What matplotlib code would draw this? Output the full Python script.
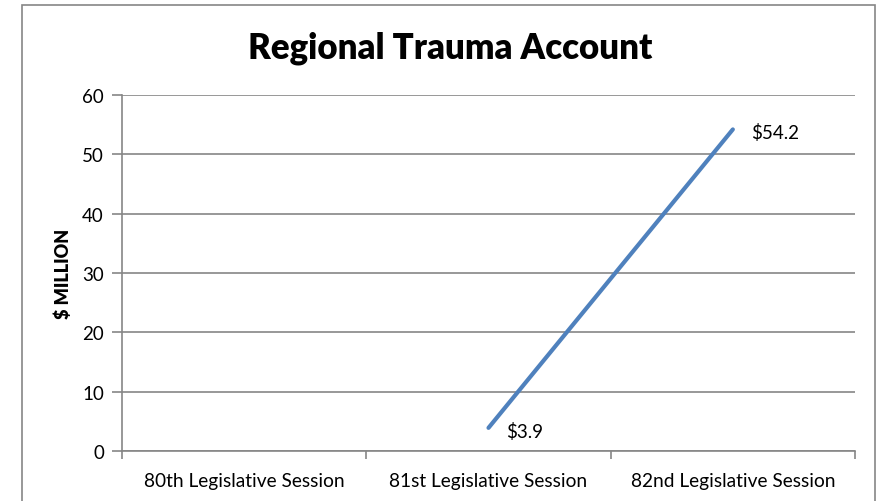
import numpy as np
import matplotlib
matplotlib.use("Agg")
import matplotlib.pyplot as plt
from matplotlib.patches import Rectangle

# data
sessions = ["80th Legislative Session", "81st Legislative Session", "82nd Legislative Session"]
amounts = [np.nan, 3.9, 54.2]
labels = ["", "$3.9", "$54.2"]

plt.rcParams['font.family'] = ['Lato', 'DejaVu Sans']

fig = plt.figure(figsize=(8.79, 5.02), dpi=100)
ax = fig.add_axes([122/879, 1 - 452/502, (855 - 122)/879, (452 - 96)/502])

# outer chart border
fig.patches.append(Rectangle((22/879, -0.02), (875 - 22)/879, 1 - 6/502 + 0.02,
                             transform=fig.transFigure, fill=False,
                             edgecolor='#868686', linewidth=1.2))

x = np.arange(len(sessions))
ax.plot(x, amounts, color='#4F81BD', linewidth=3, solid_capstyle='round')

for xi, v, lab in zip(x, amounts, labels):
    if lab:
        ax.annotate(lab, (xi, v), xytext=(13, -2), textcoords='offset points',
                    ha='left', va='center', fontsize=13.5)

ax.set_xlim(-0.5, 2.5)
ax.set_ylim(0, 60)
ax.set_yticks(range(0, 61, 10))
ax.set_xticks(x)
ax.set_xticklabels(sessions)
ax.set_xticks([-0.5, 0.5, 1.5, 2.5], minor=True)
ax.tick_params(axis='x', which='major', length=0, pad=15, labelsize=13.8)
ax.tick_params(axis='x', which='minor', length=6, color='#868686', width=1.2)
ax.tick_params(axis='y', length=7, color='#868686', width=1.2, pad=6, labelsize=13.5)

ax.grid(axis='y', color='#868686', linewidth=1.2)
ax.set_axisbelow(True)
for s in ['top', 'right']:
    ax.spines[s].set_visible(False)
for s in ['left', 'bottom']:
    ax.spines[s].set_color('#868686')
    ax.spines[s].set_linewidth(1.2)

ax.set_ylabel("$ MILLION", fontweight='heavy', fontsize=13, labelpad=7)
fig.text(450/879, 1 - 48/502, "Regional Trauma Account", ha='center', va='center',
         fontsize=25, fontweight='heavy')

fig.savefig("out.png", dpi=100)
